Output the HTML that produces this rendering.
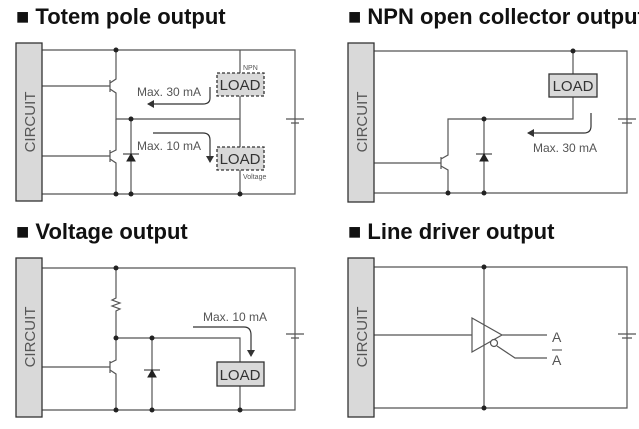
<!DOCTYPE html>
<html><head><style>
body{margin:0;background:#fff;width:639px;height:429px;overflow:hidden;font-family:"Liberation Sans",sans-serif}
.t{position:absolute;font-weight:bold;font-size:22px;color:#111;white-space:nowrap}
</style></head><body>
<div class="t" style="left:16px;top:4px">■ Totem pole output</div>
<div class="t" style="left:348px;top:4px">■ NPN open collector output</div>
<div class="t" style="left:16px;top:219px">■ Voltage output</div>
<div class="t" style="left:348px;top:219px">■ Line driver output</div>
<svg width="639" height="429" style="position:absolute;left:0;top:0" font-family="Liberation Sans, sans-serif">
<defs><marker id="ar" markerWidth="8" markerHeight="8" refX="6" refY="4" orient="auto" markerUnits="userSpaceOnUse"><path d="M0,0 L7,4 L0,8Z" fill="#333"/></marker></defs>
<g stroke="#555" stroke-width="1.2" fill="none">
<!-- panel 1 -->
<path d="M42,50H295V194H42"/>
<path d="M116,50V79L110,83M110,80V92M42,86H110M110,89L116,93V119H240M240,50V194"/>
<path d="M116,119V150L110,153M110,150V162M42,156H110M110,159L116,163V194"/>
<path d="M131,119V194"/>
<path d="M286,119H304M291,123H299"/>
<path d="M210,87V98Q210,104 203,104H148" marker-end="url(#ar)" stroke="#333"/>
<path d="M153,133H203Q210,133 210,140V162" marker-end="url(#ar)" stroke="#333"/>
<!-- panel 2 -->
<path d="M374,51H627V193H374M573,51V119H448V155L441,159M441,157V169M374,163H441M441,166L448,170V193M484,119V193"/>
<path d="M618,119H636M622,123H632"/>
<path d="M591,113V126Q591,133 584,133H528" marker-end="url(#ar)" stroke="#333"/>
<!-- panel 3 -->
<path d="M42,268H295V410H42M116,268V298L112,300L120,303L112,306L120,309L116,311V360L110,363M110,361V373M42,367H110M110,370L116,374V410M116,338H240V362M240,386V410M152,338V410"/>
<path d="M286,334H304M291,338H299"/>
<path d="M193,327H244Q251,327 251,335V356" marker-end="url(#ar)" stroke="#333"/>
<!-- panel 4 -->
<path d="M374,267H627V408H374M484,267V408M374,335H472M472,318L502,335L472,352ZM502,335H547M497,346L515,358H547"/>
<path d="M618,334H636M622,338H632"/>
<circle cx="494" cy="343" r="3.5" fill="#fff"/>
</g>
<g fill="#222">
<circle cx="116" cy="50" r="2.5"/><circle cx="116" cy="194" r="2.5"/><circle cx="131" cy="119" r="2.5"/><circle cx="131" cy="194" r="2.5"/><circle cx="240" cy="194" r="2.5"/>
<circle cx="573" cy="51" r="2.5"/><circle cx="484" cy="119" r="2.5"/><circle cx="484" cy="193" r="2.5"/><circle cx="448" cy="193" r="2.5"/>
<circle cx="116" cy="268" r="2.5"/><circle cx="116" cy="338" r="2.5"/><circle cx="116" cy="410" r="2.5"/><circle cx="152" cy="338" r="2.5"/><circle cx="152" cy="410" r="2.5"/><circle cx="240" cy="410" r="2.5"/>
<circle cx="484" cy="267" r="2.5"/><circle cx="484" cy="408" r="2.5"/>
<path d="M127,161H135L131,154Z M123,154H139" stroke="#222"/>
<path d="M480,161H488L484,154Z M476,154H492" stroke="#222"/>
<path d="M148,377H156L152,370Z M144,370H160" stroke="#222"/>
</g>
<g stroke="#333" stroke-width="1.3" fill="#d9d9d9">
<rect x="16" y="43" width="26" height="158"/><rect x="348" y="43" width="26" height="159"/>
<rect x="16" y="258" width="26" height="159"/><rect x="348" y="258" width="26" height="159"/>
<rect x="217" y="73" width="47" height="23" stroke-dasharray="3,2"/><rect x="217" y="147" width="47" height="23" stroke-dasharray="3,2"/>
<rect x="549" y="74" width="48" height="23"/><rect x="217" y="362" width="47" height="24"/>
</g>
<g fill="#555" font-size="15">
<text transform="translate(35,122) rotate(-90)" text-anchor="middle">CIRCUIT</text>
<text transform="translate(367,122) rotate(-90)" text-anchor="middle">CIRCUIT</text>
<text transform="translate(35,337) rotate(-90)" text-anchor="middle">CIRCUIT</text>
<text transform="translate(367,337) rotate(-90)" text-anchor="middle">CIRCUIT</text>
<g font-size="15" text-anchor="middle" fill="#333"><text x="240" y="90">LOAD</text><text x="240" y="164">LOAD</text><text x="573" y="91">LOAD</text><text x="240" y="380">LOAD</text></g>
<g font-size="12"><text x="137" y="96">Max. 30 mA</text><text x="137" y="150">Max. 10 mA</text><text x="533" y="152">Max. 30 mA</text><text x="203" y="321">Max. 10 mA</text></g>
<text x="243" y="70" font-size="7">NPN</text><text x="243" y="179" font-size="7">Voltage</text>
<text x="552" y="342" font-size="14">A</text><text x="552" y="365" font-size="14">A</text>
</g>
<path d="M552,350H562" stroke="#444"/>
</svg>
</body></html>
